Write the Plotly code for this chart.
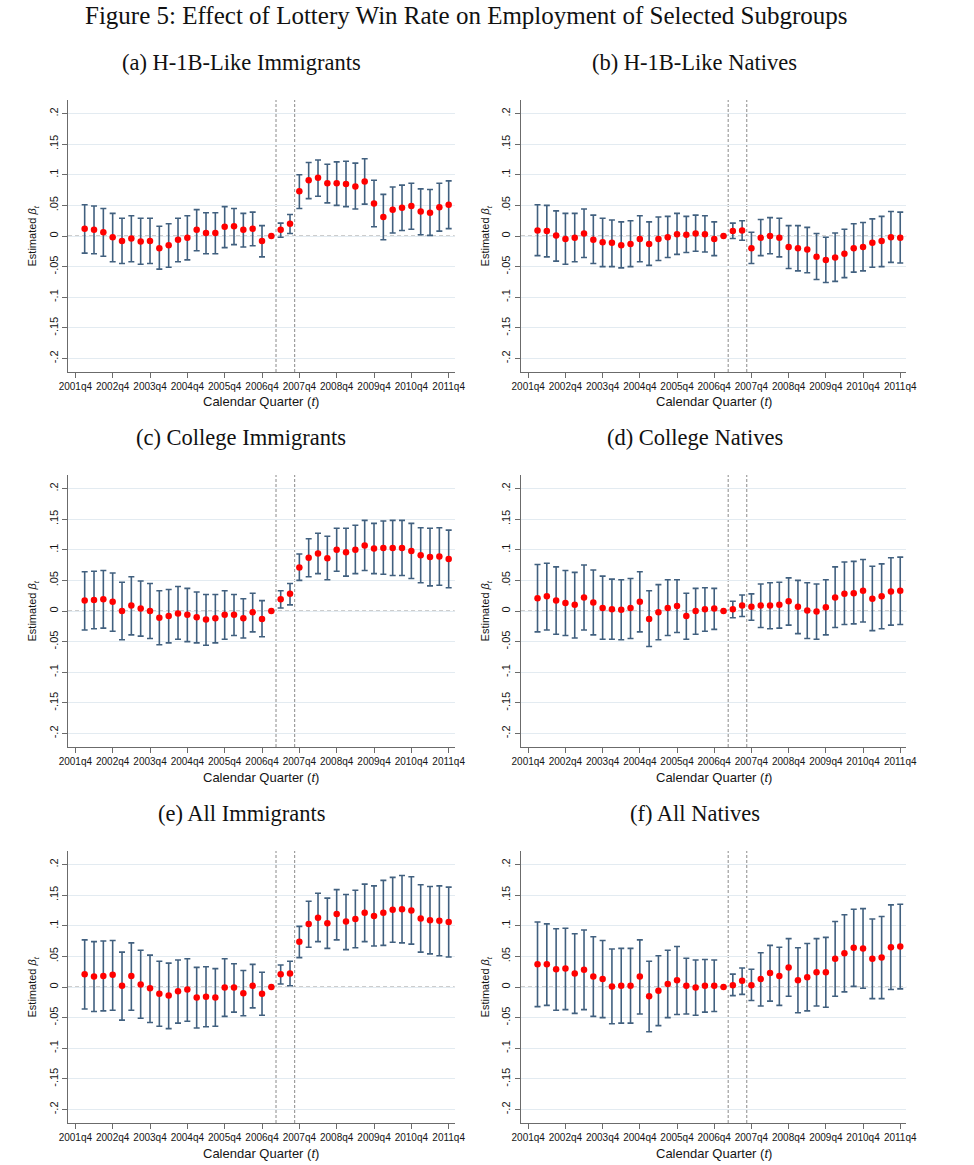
import plotly.graph_objects as go

# ---------------- data ----------------
quarters = [f"{y}q{q}" for y in range(2002, 2012) for q in range(1, 5)]   # 2002q1 .. 2011q4
tick_labels = [f"{y}q4" for y in range(2001, 2012)]                        # 2001q4 .. 2011q4
event_quarters = [21.5, 23.5]  # quarter-index positions of the two dashed reference lines

a_est = [0.012, 0.010, 0.006, -0.002, -0.008, -0.004, -0.009, -0.008, -0.020, -0.015,
         -0.006, -0.003, 0.010, 0.005, 0.005, 0.015, 0.016, 0.010, 0.012, -0.008,
         0.000, 0.010, 0.020, 0.073, 0.091, 0.095, 0.086, 0.086, 0.085, 0.081,
         0.089, 0.053, 0.031, 0.043, 0.046, 0.049, 0.040, 0.038, 0.047, 0.051]
a_hi = [0.051, 0.049, 0.045, 0.037, 0.029, 0.033, 0.029, 0.029, 0.016, 0.020,
        0.029, 0.033, 0.043, 0.038, 0.038, 0.048, 0.045, 0.037, 0.039, 0.017,
        None, 0.021, 0.035, 0.100, 0.120, 0.124, 0.117, 0.121, 0.122, 0.119,
        0.126, 0.091, 0.068, 0.080, 0.083, 0.086, 0.077, 0.076, 0.086, 0.090]
a_lo = [-0.028, -0.029, -0.033, -0.042, -0.045, -0.042, -0.046, -0.045, -0.054, -0.051,
        -0.042, -0.039, -0.024, -0.029, -0.029, -0.019, -0.014, -0.018, -0.016, -0.034,
        None, -0.002, 0.004, 0.045, 0.061, 0.065, 0.054, 0.050, 0.048, 0.044,
        0.052, 0.015, -0.006, 0.005, 0.009, 0.011, 0.002, 0.001, 0.008, 0.012]

b_est = [0.009, 0.008, 0.001, -0.005, -0.003, 0.004, -0.006, -0.010, -0.011, -0.015,
         -0.013, -0.005, -0.013, -0.005, -0.002, 0.003, 0.002, 0.004, 0.003, -0.005,
         0.000, 0.008, 0.009, -0.020, -0.003, 0.000, -0.003, -0.018, -0.020, -0.022,
         -0.034, -0.039, -0.035, -0.029, -0.020, -0.018, -0.011, -0.008, -0.002, -0.003]
b_hi = [0.051, 0.050, 0.041, 0.037, 0.037, 0.044, 0.034, 0.029, 0.026, 0.023,
        0.025, 0.033, 0.023, 0.031, 0.032, 0.037, 0.032, 0.034, 0.033, 0.023,
        None, 0.021, 0.025, 0.006, 0.027, 0.030, 0.029, 0.017, 0.017, 0.014,
        0.004, -0.002, 0.005, 0.011, 0.020, 0.022, 0.028, 0.032, 0.040, 0.039]
b_lo = [-0.032, -0.034, -0.041, -0.046, -0.042, -0.035, -0.045, -0.050, -0.050, -0.052,
        -0.050, -0.042, -0.048, -0.040, -0.035, -0.030, -0.027, -0.025, -0.026, -0.032,
        None, -0.004, -0.007, -0.045, -0.032, -0.029, -0.034, -0.053, -0.057, -0.060,
        -0.071, -0.076, -0.074, -0.068, -0.059, -0.057, -0.051, -0.050, -0.043, -0.044]

c_est = [0.017, 0.018, 0.019, 0.015, 0.000, 0.009, 0.004, 0.000, -0.011, -0.008,
         -0.004, -0.006, -0.010, -0.014, -0.012, -0.006, -0.006, -0.012, -0.002, -0.013,
         0.000, 0.019, 0.028, 0.071, 0.087, 0.094, 0.086, 0.100, 0.096, 0.100,
         0.107, 0.102, 0.103, 0.103, 0.103, 0.098, 0.091, 0.088, 0.089, 0.085]
c_hi = [0.064, 0.065, 0.066, 0.062, 0.047, 0.056, 0.049, 0.045, 0.033, 0.035,
        0.040, 0.037, 0.031, 0.027, 0.027, 0.033, 0.027, 0.020, 0.029, 0.017,
        None, 0.033, 0.045, 0.093, 0.118, 0.127, 0.122, 0.135, 0.135, 0.140,
        0.148, 0.143, 0.147, 0.148, 0.148, 0.143, 0.136, 0.135, 0.136, 0.132]
c_lo = [-0.031, -0.029, -0.028, -0.033, -0.047, -0.039, -0.041, -0.045, -0.055, -0.052,
        -0.046, -0.050, -0.052, -0.056, -0.052, -0.046, -0.040, -0.044, -0.034, -0.042,
        None, 0.005, 0.010, 0.050, 0.056, 0.061, 0.051, 0.065, 0.057, 0.061,
        0.066, 0.061, 0.060, 0.058, 0.058, 0.053, 0.046, 0.041, 0.042, 0.038]

d_est = [0.021, 0.024, 0.017, 0.013, 0.010, 0.022, 0.014, 0.005, 0.003, 0.002,
         0.005, 0.015, -0.013, -0.002, 0.005, 0.008, -0.008, 0.000, 0.003, 0.004,
         0.000, 0.003, 0.009, 0.007, 0.009, 0.009, 0.010, 0.016, 0.007, 0.001,
         -0.001, 0.006, 0.022, 0.028, 0.029, 0.033, 0.020, 0.024, 0.032, 0.033]
d_hi = [0.076, 0.078, 0.072, 0.066, 0.063, 0.075, 0.067, 0.057, 0.052, 0.051,
        0.053, 0.064, 0.033, 0.043, 0.051, 0.051, 0.029, 0.037, 0.038, 0.037,
        None, 0.016, 0.026, 0.028, 0.044, 0.046, 0.047, 0.054, 0.050, 0.046,
        0.044, 0.051, 0.072, 0.080, 0.081, 0.084, 0.073, 0.077, 0.087, 0.088]
d_lo = [-0.034, -0.031, -0.038, -0.040, -0.044, -0.031, -0.039, -0.046, -0.046, -0.047,
        -0.045, -0.034, -0.058, -0.047, -0.040, -0.035, -0.046, -0.038, -0.033, -0.030,
        None, -0.011, -0.009, -0.015, -0.027, -0.029, -0.028, -0.023, -0.037, -0.045,
        -0.046, -0.039, -0.027, -0.022, -0.021, -0.018, -0.032, -0.029, -0.023, -0.022]

e_est = [0.021, 0.017, 0.018, 0.020, 0.002, 0.018, 0.004, -0.002, -0.011, -0.014,
         -0.007, -0.004, -0.017, -0.016, -0.017, -0.001, -0.001, -0.010, 0.002, -0.011,
         0.000, 0.021, 0.022, 0.074, 0.103, 0.113, 0.104, 0.119, 0.107, 0.111,
         0.121, 0.116, 0.121, 0.126, 0.127, 0.125, 0.112, 0.109, 0.108, 0.106]
e_hi = [0.077, 0.074, 0.075, 0.076, 0.057, 0.072, 0.060, 0.052, 0.042, 0.039,
        0.044, 0.046, 0.032, 0.033, 0.030, 0.046, 0.038, 0.027, 0.037, 0.024,
        None, 0.036, 0.042, 0.099, 0.140, 0.153, 0.145, 0.159, 0.151, 0.158,
        0.168, 0.165, 0.174, 0.179, 0.182, 0.180, 0.167, 0.164, 0.165, 0.163]
e_lo = [-0.036, -0.040, -0.039, -0.038, -0.054, -0.038, -0.051, -0.058, -0.064, -0.068,
        -0.059, -0.056, -0.067, -0.065, -0.064, -0.048, -0.041, -0.047, -0.034, -0.046,
        None, 0.005, 0.002, 0.048, 0.065, 0.074, 0.063, 0.077, 0.061, 0.064,
        0.074, 0.067, 0.068, 0.073, 0.072, 0.070, 0.057, 0.054, 0.051, 0.049]

f_est = [0.037, 0.037, 0.029, 0.030, 0.022, 0.028, 0.017, 0.013, 0.001, 0.002,
         0.002, 0.017, -0.015, -0.006, 0.005, 0.011, 0.002, -0.001, 0.002, 0.002,
         0.000, 0.003, 0.010, 0.003, 0.013, 0.023, 0.018, 0.032, 0.011, 0.016,
         0.024, 0.024, 0.046, 0.055, 0.064, 0.063, 0.046, 0.048, 0.065, 0.066]
f_hi = [0.106, 0.103, 0.095, 0.096, 0.087, 0.093, 0.082, 0.076, 0.062, 0.063,
        0.063, 0.077, 0.042, 0.051, 0.060, 0.066, 0.047, 0.044, 0.045, 0.044,
        None, 0.021, 0.031, 0.029, 0.056, 0.068, 0.065, 0.079, 0.064, 0.071,
        0.079, 0.081, 0.107, 0.118, 0.127, 0.128, 0.111, 0.115, 0.134, 0.135]
f_lo = [-0.032, -0.030, -0.038, -0.037, -0.043, -0.037, -0.048, -0.050, -0.060, -0.059,
        -0.059, -0.044, -0.073, -0.063, -0.050, -0.045, -0.044, -0.046, -0.041, -0.040,
        None, -0.014, -0.012, -0.022, -0.031, -0.023, -0.030, -0.015, -0.042, -0.039,
        -0.031, -0.033, -0.015, -0.008, 0.001, -0.002, -0.019, -0.019, -0.004, -0.003]

panel_titles = ["(a) H-1B-Like Immigrants", "(b) H-1B-Like Natives",
                "(c) College Immigrants", "(d) College Natives",
                "(e) All Immigrants", "(f) All Natives"]
y_ticks = [-0.2, -0.15, -0.1, -0.05, 0, 0.05, 0.1, 0.15, 0.2]
y_tick_text = ["-.2", "-.15", "-.1", "-.05", "0", ".05", ".1", ".15", ".2"]

# ---------------- layout helpers ----------------
W, H = 974, 1165
col_px = [(60.3, 455.0), (522.7, 916.0)]
row_px = [(100, 372), (475, 747), (851, 1123)]
col_title_x = [237, 700]
x_range = [-0.78, 40.64]
y_range = [-0.222, 0.222]

SANS = "Liberation Sans, Arial, sans-serif"
SERIF = "Liberation Serif, Times New Roman, serif"
AXIS_COL = "#6b6b6b"
BAR_COL = "#41607f"


def qidx(s):
    y, q = s.split("q")
    return (int(y) - 2001) * 4 + int(q) - 4


xq = [qidx(q) for q in quarters]
tick_vals = [qidx(t) for t in tick_labels]

panels = [(a_est, a_lo, a_hi), (b_est, b_lo, b_hi), (c_est, c_lo, c_hi),
          (d_est, d_lo, d_hi), (e_est, e_lo, e_hi), (f_est, f_lo, f_hi)]

fig = go.Figure()
shapes = []
annotations = []
layout_axes = {}

for i, (est, lo, hi) in enumerate(panels):
    r, c = divmod(i, 2)
    n = i + 1
    xa = "x" if n == 1 else f"x{n}"
    ya = "y" if n == 1 else f"y{n}"
    plus = [None if h is None else h - e for e, h in zip(est, hi)]
    minus = [None if l is None else e - l for e, l in zip(est, lo)]
    fig.add_trace(go.Scatter(
        x=xq, y=est, mode="markers", xaxis=xa, yaxis=ya, showlegend=False,
        marker=dict(color="#ff0000", size=6.5, line=dict(width=0)),
        error_y=dict(type="data", symmetric=False, array=plus, arrayminus=minus,
                     color=BAR_COL, thickness=1.6, width=3),
    ))
    x0, x1 = col_px[c]
    t, b = row_px[r]
    xdom = [x0 / W, x1 / W]
    ydom = [1 - b / H, 1 - t / H]
    xkey = "xaxis" if n == 1 else f"xaxis{n}"
    ykey = "yaxis" if n == 1 else f"yaxis{n}"
    layout_axes[xkey] = dict(
        domain=xdom, range=x_range, anchor=ya, showgrid=False, zeroline=False,
        showline=True, linecolor=AXIS_COL, linewidth=1.3,
        ticks="outside", ticklen=5, tickwidth=1.2, tickcolor=AXIS_COL,
        tickvals=tick_vals, ticktext=tick_labels,
        tickfont=dict(family=SANS, size=10, color="#151515"))
    layout_axes[ykey] = dict(
        domain=ydom, range=y_range, anchor=xa, showgrid=True, gridcolor="#e3ebf1",
        gridwidth=1, zeroline=False, showline=True, linecolor=AXIS_COL, linewidth=1.3,
        ticks="outside", ticklen=5, tickwidth=1.2, tickcolor=AXIS_COL,
        tickvals=y_ticks, ticktext=y_tick_text, tickangle=-90,
        tickfont=dict(family=SANS, size=11, color="#151515"))
    # zero reference line (dashed)
    shapes.append(dict(type="line", xref=f"{xa} domain", yref=ya, x0=0, x1=1, y0=0, y1=0,
                       line=dict(color="#9a9a9a", width=1, dash="4px,3px"), layer="below"))
    # event lines
    for ev in event_quarters:
        shapes.append(dict(type="line", xref=xa, yref=f"{ya} domain", x0=ev, x1=ev, y0=0, y1=1,
                           line=dict(color="#8a8a8a", width=1, dash="3px,2px"), layer="below"))
    # axis titles
    annotations.append(dict(text="Estimated <i>β<sub>t</sub></i>", xref="paper", yref="paper",
                            x=(25 + 462.4 * c) / W, y=1 - ((t + b) / 2) / H, textangle=-90,
                            showarrow=False, xanchor="center", yanchor="middle",
                            font=dict(family=SANS, size=11, color="#151515")))
    annotations.append(dict(text="Calendar Quarter (<i>t</i>)", xref="paper", yref="paper",
                            x=((x0 + x1) / 2) / W, y=1 - (b + 30) / H,
                            showarrow=False, xanchor="center", yanchor="middle",
                            font=dict(family=SANS, size=13, color="#151515")))
    annotations.append(dict(text=panel_titles[i], xref="paper", yref="paper",
                            x=col_title_x[c] / W, y=1 - (t - 38) / H,
                            showarrow=False, xanchor="center", yanchor="middle",
                            font=dict(family=SERIF, size=22.5, color="#111111")))

annotations.append(dict(text="Figure 5: Effect of Lottery Win Rate on Employment of Selected Subgroups",
                        xref="paper", yref="paper", x=467 / W, y=1 - 15 / H,
                        showarrow=False, xanchor="center", yanchor="middle",
                        font=dict(family=SERIF, size=25, color="#111111")))

fig.update_layout(width=W, height=H, margin=dict(l=0, r=0, t=0, b=0),
                  paper_bgcolor="white", plot_bgcolor="white",
                  shapes=shapes, annotations=annotations, **layout_axes)

fig.write_html(
    "out.html",
    config={"displayModeBar": False, "responsive": False},
    post_script=("document.documentElement.style.overflow='hidden';"
                 "document.body.style.margin='0px';"
                 "document.body.style.overflow='hidden';"),
)
